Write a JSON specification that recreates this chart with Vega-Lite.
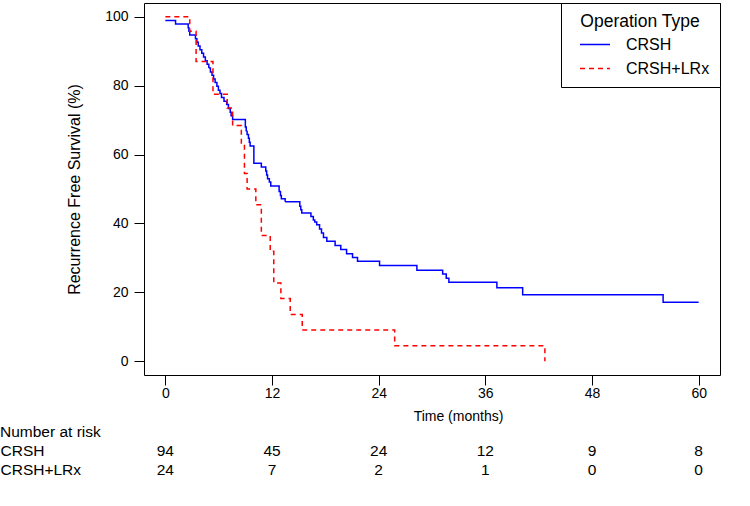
{
  "$schema": "https://vega.github.io/schema/vega-lite/v6.json",
  "padding": {"left": 0, "top": 2, "right": 0, "bottom": 0},
  "autosize": {"type": "pad"},
  "background": "white",
  "spacing": 0,
  "config": {
    "font": "Liberation Sans",
    "view": {"stroke": "black", "strokeWidth": 1},
    "axis": {"grid": false, "domain": false, "tickColor": "black", "labelColor": "black", "titleColor": "black", "titleFontWeight": "normal"},
    "legend": {"orient": "top-right", "offset": 0, "padding": 10, "strokeColor": "black", "fillColor": "white", "titleFontSize": 17.5, "titleFontWeight": "normal", "titleColor": "black", "titleAnchor": "middle", "labelFontSize": 16, "labelColor": "black", "symbolType": "stroke", "symbolSize": 900, "symbolStrokeWidth": 1.3, "symbolOffset": 8, "labelOffset": 15, "rowPadding": -15, "titlePadding": -2}
  },
  "datasets": {
    "km": [
      {"t": 0, "s": 98.9, "g": "CRSH"}, {"t": 1.15, "s": 97.9, "g": "CRSH"}, {"t": 2.57, "s": 96.8, "g": "CRSH"}, {"t": 2.65, "s": 95.8, "g": "CRSH"}, {"t": 2.75, "s": 94.7, "g": "CRSH"},
      {"t": 3.39, "s": 93.6, "g": "CRSH"}, {"t": 3.55, "s": 92.6, "g": "CRSH"}, {"t": 3.7, "s": 91.5, "g": "CRSH"}, {"t": 3.9, "s": 90.4, "g": "CRSH"}, {"t": 4.1, "s": 89.4, "g": "CRSH"},
      {"t": 4.3, "s": 88.3, "g": "CRSH"}, {"t": 4.5, "s": 87.2, "g": "CRSH"}, {"t": 4.7, "s": 86.2, "g": "CRSH"}, {"t": 4.89, "s": 85.1, "g": "CRSH"}, {"t": 5.07, "s": 84.0, "g": "CRSH"},
      {"t": 5.25, "s": 83.0, "g": "CRSH"}, {"t": 5.43, "s": 81.9, "g": "CRSH"}, {"t": 5.6, "s": 80.9, "g": "CRSH"}, {"t": 5.8, "s": 79.8, "g": "CRSH"}, {"t": 5.97, "s": 78.7, "g": "CRSH"},
      {"t": 6.15, "s": 77.7, "g": "CRSH"}, {"t": 6.32, "s": 76.6, "g": "CRSH"}, {"t": 6.6, "s": 75.5, "g": "CRSH"}, {"t": 6.9, "s": 74.5, "g": "CRSH"}, {"t": 7.1, "s": 73.4, "g": "CRSH"},
      {"t": 7.3, "s": 72.3, "g": "CRSH"}, {"t": 7.4, "s": 71.3, "g": "CRSH"}, {"t": 7.57, "s": 70.2, "g": "CRSH"}, {"t": 9.0, "s": 68.0, "g": "CRSH"}, {"t": 9.1, "s": 66.9, "g": "CRSH"},
      {"t": 9.2, "s": 65.8, "g": "CRSH"}, {"t": 9.35, "s": 64.7, "g": "CRSH"}, {"t": 9.45, "s": 63.6, "g": "CRSH"}, {"t": 9.54, "s": 62.5, "g": "CRSH"}, {"t": 9.96, "s": 57.5, "g": "CRSH"},
      {"t": 10.8, "s": 56.4, "g": "CRSH"}, {"t": 11.3, "s": 55.2, "g": "CRSH"}, {"t": 11.4, "s": 54.1, "g": "CRSH"}, {"t": 11.5, "s": 53.0, "g": "CRSH"}, {"t": 11.7, "s": 52.0, "g": "CRSH"},
      {"t": 11.86, "s": 50.9, "g": "CRSH"}, {"t": 12.8, "s": 49.3, "g": "CRSH"}, {"t": 12.95, "s": 48.1, "g": "CRSH"}, {"t": 13.05, "s": 47.2, "g": "CRSH"}, {"t": 13.48, "s": 46.3, "g": "CRSH"},
      {"t": 15.13, "s": 45.0, "g": "CRSH"}, {"t": 15.24, "s": 44.0, "g": "CRSH"}, {"t": 15.35, "s": 43.0, "g": "CRSH"}, {"t": 16.38, "s": 42.0, "g": "CRSH"}, {"t": 16.65, "s": 41.0, "g": "CRSH"},
      {"t": 16.81, "s": 40.4, "g": "CRSH"}, {"t": 17.03, "s": 39.6, "g": "CRSH"}, {"t": 17.35, "s": 38.4, "g": "CRSH"}, {"t": 17.57, "s": 37.2, "g": "CRSH"}, {"t": 17.79, "s": 35.9, "g": "CRSH"},
      {"t": 18.17, "s": 34.8, "g": "CRSH"}, {"t": 19.1, "s": 33.6, "g": "CRSH"}, {"t": 19.74, "s": 32.4, "g": "CRSH"}, {"t": 20.39, "s": 31.2, "g": "CRSH"}, {"t": 21.06, "s": 30.1, "g": "CRSH"},
      {"t": 21.62, "s": 29.0, "g": "CRSH"}, {"t": 24.1, "s": 27.8, "g": "CRSH"}, {"t": 28.3, "s": 26.4, "g": "CRSH"}, {"t": 31.2, "s": 25.3, "g": "CRSH"}, {"t": 31.6, "s": 24.1, "g": "CRSH"},
      {"t": 31.9, "s": 22.9, "g": "CRSH"}, {"t": 37.3, "s": 21.3, "g": "CRSH"}, {"t": 40.2, "s": 19.3, "g": "CRSH"}, {"t": 56.0, "s": 17.1, "g": "CRSH"}, {"t": 60, "s": 17.1, "g": "CRSH"},
      {"t": 0, "s": 100, "g": "CRSH+LRx"}, {"t": 2.75, "s": 95.8, "g": "CRSH+LRx"}, {"t": 3.46, "s": 87.0, "g": "CRSH+LRx"}, {"t": 5.36, "s": 77.5, "g": "CRSH+LRx"}, {"t": 6.96, "s": 73.5, "g": "CRSH+LRx"},
      {"t": 7.57, "s": 68.4, "g": "CRSH+LRx"}, {"t": 8.55, "s": 63.0, "g": "CRSH+LRx"}, {"t": 8.9, "s": 54.5, "g": "CRSH+LRx"}, {"t": 9.2, "s": 50.0, "g": "CRSH+LRx"}, {"t": 10.18, "s": 45.4, "g": "CRSH+LRx"},
      {"t": 10.8, "s": 36.5, "g": "CRSH+LRx"}, {"t": 11.8, "s": 31.9, "g": "CRSH+LRx"}, {"t": 12.2, "s": 22.7, "g": "CRSH+LRx"}, {"t": 13.0, "s": 18.2, "g": "CRSH+LRx"}, {"t": 14.05, "s": 13.6, "g": "CRSH+LRx"},
      {"t": 15.4, "s": 9.1, "g": "CRSH+LRx"}, {"t": 25.8, "s": 4.5, "g": "CRSH+LRx"}, {"t": 42.7, "s": 0, "g": "CRSH+LRx"}
    ],
    "risk": [
      {"t": 0, "n": 94, "g": "CRSH"}, {"t": 12, "n": 45, "g": "CRSH"}, {"t": 24, "n": 24, "g": "CRSH"}, {"t": 36, "n": 12, "g": "CRSH"}, {"t": 48, "n": 9, "g": "CRSH"}, {"t": 60, "n": 8, "g": "CRSH"},
      {"t": 0, "n": 24, "g": "CRSH+LRx"}, {"t": 12, "n": 7, "g": "CRSH+LRx"}, {"t": 24, "n": 2, "g": "CRSH+LRx"}, {"t": 36, "n": 1, "g": "CRSH+LRx"}, {"t": 48, "n": 0, "g": "CRSH+LRx"}, {"t": 60, "n": 0, "g": "CRSH+LRx"}
    ]
  },
  "vconcat": [
    {
      "width": 576,
      "height": 372,
      "data": {"name": "km"},
      "mark": {"type": "line", "interpolate": "step-after", "strokeWidth": 1.5},
      "encoding": {
        "x": {"field": "t", "type": "quantitative", "scale": {"domain": [-2.4, 62.4], "nice": false, "zero": false},
              "axis": {"values": [0, 12, 24, 36, 48, 60], "tickSize": 10, "labelFontSize": 14, "labelPadding": 1, "title": "Time (months)", "titleFontSize": 14, "titleX": 314, "titleY": 41, "titleBaseline": "middle", "titleAnchor": "middle"}},
        "y": {"field": "s", "type": "quantitative", "scale": {"domain": [-4, 104], "nice": false, "zero": false},
              "axis": {"values": [0, 20, 40, 60, 80, 100], "tickSize": 10, "labelFontSize": 14, "labelPadding": 6, "title": "Recurrence Free Survival (%)", "titleFontSize": 16, "titlePadding": 22}},
        "color": {"field": "g", "type": "nominal", "scale": {"domain": ["CRSH", "CRSH+LRx"], "range": ["#0000FF", "#FF0000"]}, "legend": {"title": "Operation Type"}},
        "strokeDash": {"field": "g", "type": "nominal", "scale": {"domain": ["CRSH", "CRSH+LRx"], "range": [[1, 0], [5, 4]]}, "legend": {"title": "Operation Type"}}
      }
    },
    {
      "width": 576,
      "height": 38,
      "view": {"stroke": null},
      "title": {"text": "Number at risk", "anchor": "start", "frame": "bounds", "fontSize": 15.5, "fontWeight": "normal", "color": "black", "offset": 1},
      "data": {"name": "risk"},
      "mark": {"type": "text", "fontSize": 15.5, "color": "black"},
      "encoding": {
        "x": {"field": "t", "type": "quantitative", "scale": {"domain": [-2.4, 62.4], "nice": false, "zero": false}, "axis": null},
        "y": {"field": "g", "type": "nominal", "sort": ["CRSH", "CRSH+LRx"],
              "axis": {"title": null, "labelAlign": "left", "labelPadding": 144, "ticks": false, "tickSize": 0, "labelFontSize": 15.5, "labelColor": "black"}},
        "text": {"field": "n", "type": "quantitative"}
      }
    }
  ]
}
